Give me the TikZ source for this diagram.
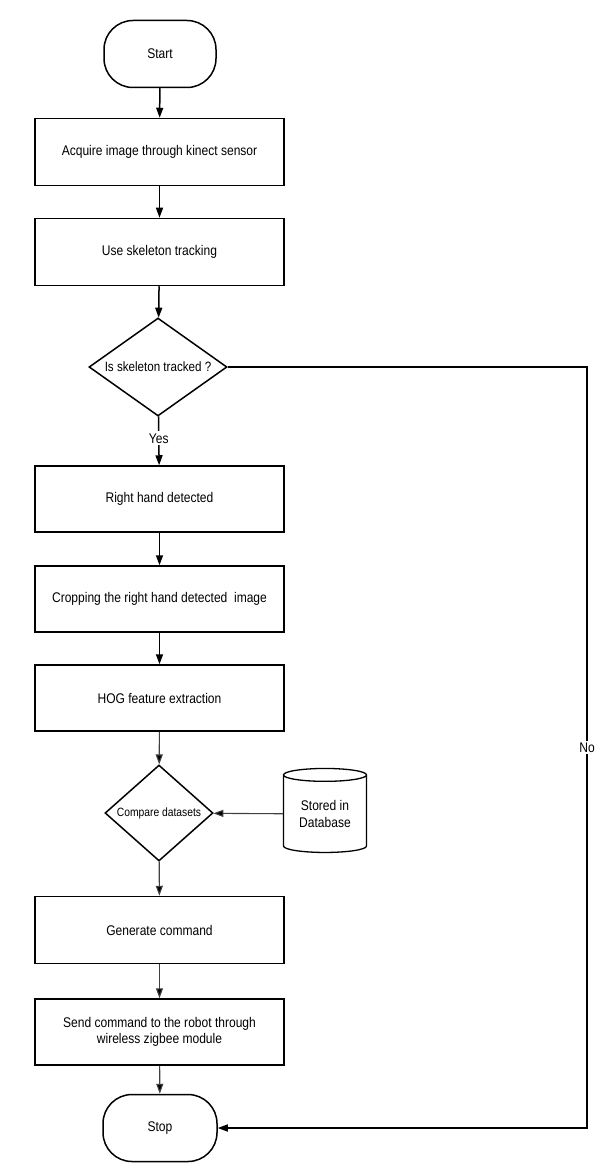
\documentclass[tikz,border=0pt]{standalone}
\usepackage{fontspec}
\setmainfont{Liberation Sans}[FakeStretch=0.86]
\usetikzlibrary{shapes.geometric,arrows.meta}
\begin{document}
\begin{tikzpicture}[x=1pt,y=-1pt,
  every node/.style={font=\fontsize{14}{16.5}\selectfont, inner sep=0pt},
  term/.style={draw, line width=1.5pt, rounded corners=29pt, minimum width=112pt, minimum height=67pt},
  procbox/.style={draw, line width=1.5pt, minimum width=249pt, minimum height=67pt, align=center},
  store/.style={draw, line width=1.3pt, cylinder, shape border rotate=90, aspect=0.25, minimum width=83pt, minimum height=84pt, align=center},
  flow/.style={line width=1.5pt, -{Triangle[length=10pt,width=7pt]}},
  flowlight/.style={line width=1.1pt, draw=black!75, -{Triangle[length=10pt,width=7pt,fill=black]}},
  lbl/.style={fill=white, inner sep=2pt}
]
\useasboundingbox (0,0) rectangle (599,1166);
\node[term] (start) at (160,54) {Start};
\node[procbox] (b1) at (159.5,152) {Acquire image through kinect sensor};
\node[procbox] (b2) at (159.5,252) {Use skeleton tracking};
\node[draw, line width=1.5pt, diamond, minimum width=138pt, minimum height=98pt, inner sep=0pt] (d1) at (158,367) {};
\node[font=\fontsize{13.5}{16}\selectfont] (d1t) at (158,367) {Is skeleton tracked ?};
\node[procbox, minimum height=66pt] (b3) at (159.5,499) {Right hand detected};
\node[procbox, minimum height=66pt] (b4) at (159.5,599) {Cropping the right hand detected\ \ image};
\node[procbox, minimum height=66pt] (b5) at (159.5,698) {HOG feature extraction};
\node[draw, line width=1.5pt, diamond, minimum width=108pt, minimum height=96pt, inner sep=0pt] (d2) at (159,813) {};
\node[font=\fontsize{12}{14}\selectfont] (d2t) at (159,813) {Compare datasets};
\node[store] (db) at (325,814) {Stored in\\Database};
\node[procbox] (b6) at (159.5,930) {Generate command};
\node[procbox, minimum height=66pt] (b7) at (159.5,1032) {Send command to the robot through\\wireless zigbee module};
\node[term, minimum width=114pt] (stop) at (160,1128) {Stop};
\coordinate (c1) at (587,367);
\coordinate (c2) at (587,1128);

\draw[flow] (start) -- (b1);
\draw[flow] (b1) -- (b2);
\draw[flow] (b2) -- (d1);
\draw[flow] (d1) -- node[lbl, pos=0.45] {Yes} (b3);
\draw[flow] (b3) -- (b4);
\draw[flow] (b4) -- (b5);
\draw[flowlight] (b5) -- (d2);
\draw[flowlight] (db) -- (d2);
\draw[flowlight] (d2) -- (b6);
\draw[flowlight] (b6) -- (b7);
\draw[flowlight] (b7) -- (stop);
\draw[flow] (d1.east) -- (c1) -- node[lbl, pos=0.5] {No} (c2) -- (stop.east);
\end{tikzpicture}
\end{document}
